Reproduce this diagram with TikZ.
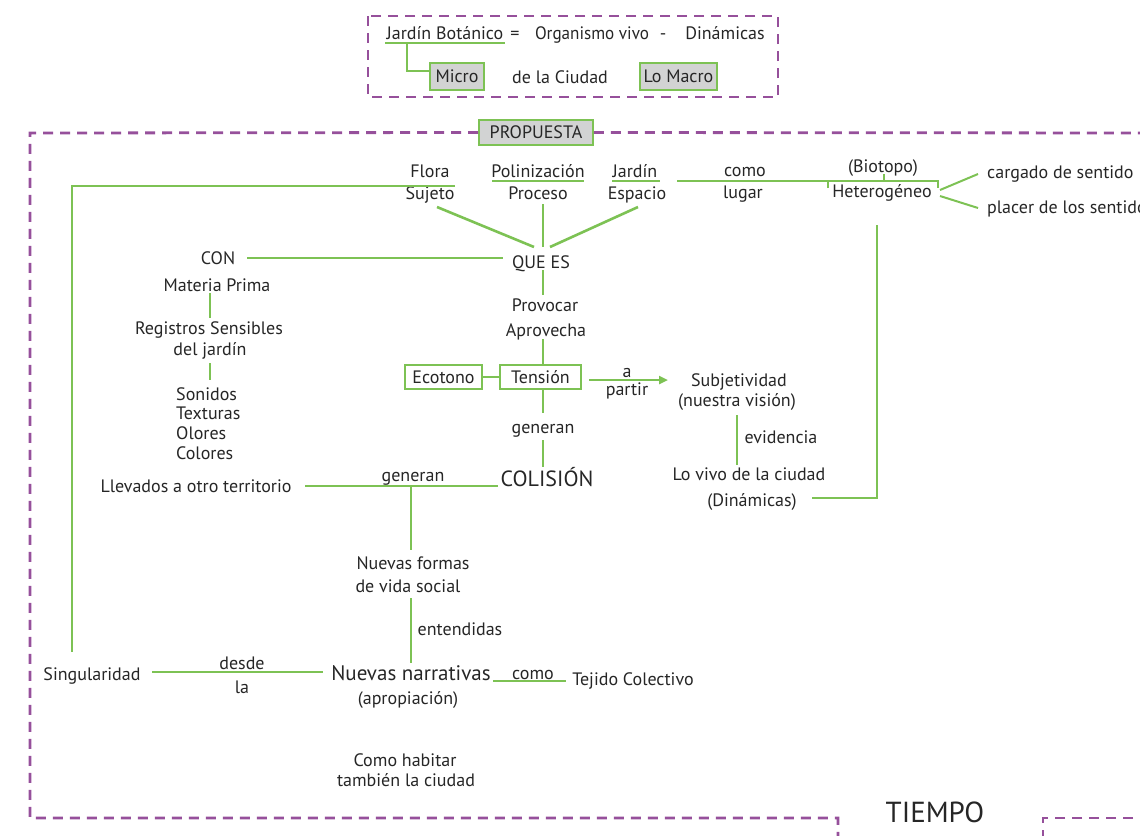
\documentclass[tikz,border=0pt]{standalone}
\usepackage{fontspec}
\setmainfont{PT Sans}
\usetikzlibrary{arrows.meta}
\definecolor{lgreen}{RGB}{125,194,84}
\definecolor{dpurple}{RGB}{150,80,155}
\definecolor{boxgray}{RGB}{210,211,211}
\definecolor{ink}{RGB}{38,38,38}
\begin{document}
\begin{tikzpicture}[x=1pt,y=-1pt,
  lbl/.style={inner sep=0pt, text=ink, font=\fontsize{18}{20}\selectfont, text height=12.6pt, text depth=0pt},
  lblw/.style={lbl, anchor=west},
  big/.style={inner sep=0pt, text=ink, font=\fontsize{21}{24}\selectfont, text height=14.7pt, text depth=0pt},
  colis/.style={inner sep=0pt, text=ink, font=\fontsize{22}{26}\selectfont, text height=15.4pt, text depth=0pt},
  tiempo/.style={inner sep=0pt, text=ink, font=\fontsize{29}{32}\selectfont, text height=20pt, text depth=0pt},
  gline/.style={draw=lgreen, line width=2.6pt},
  frame/.style={draw=dpurple, line width=2.8pt, dash pattern=on 10pt off 7pt},
  graybox/.style={draw=lgreen, line width=1.8pt, fill=boxgray, text=ink, font=\fontsize{18}{20}\selectfont, inner sep=0pt, text height=12.6pt, text depth=0pt},
  whitebox/.style={draw=lgreen, line width=1.8pt, fill=white, text=ink, font=\fontsize{18}{20}\selectfont, inner sep=0pt, text height=12.6pt, text depth=0pt},
  tip/.style={-{Triangle[length=9pt,width=8pt]}}
]
\useasboundingbox (0,0) rectangle (1140,835);
\clip (0,0) rectangle (1140,835);

% ---------- top box ----------
\draw[frame] (368,16) rectangle (778,97);
\node[lbl] (jb) at (445,33) {Jardín Botánico};
\node[lbl] (eq) at (515,33) {=};
\node[lbl] (ov) at (592,33) {\scalebox{0.95}[1]{Organismo vivo}};
\node[lbl] (guion) at (663,33) {-};
\node[lbl] (din1) at (725,33) {Dinámicas};
\node[graybox, minimum width=54pt, minimum height=27pt] (micro) at (457,76.5) {Micro};
\node[lbl] (dlc) at (560,77) {de la Ciudad};
\node[graybox, minimum width=77pt, minimum height=27pt] (macro) at (678.5,76.5) {Lo Macro};
\coordinate (jbL) at (385,43);
\coordinate (jbR) at (505,43);
\coordinate (jbS) at (407,43);
\coordinate (mj) at (430,71);
\draw[gline] (jbL) -- (jbR);
\draw[gline] (jbS) |- (mj);

% ---------- main frame ----------
\node[graybox, minimum width=114pt, minimum height=25pt] (prop) at (536,132.5) {PROPUESTA};
\draw[frame] (prop.west) -- (30,133) -- (30,818) -- (838,818) -- (838,845);
\draw[frame] (prop.east) -- (1150,133);
\draw[frame] (1150,818) -- (1043,818) -- (1043,845);
\node[tiempo] (tiempo) at (935,812) {TIEMPO};

% ---------- first row ----------
\node[lbl] (flora) at (430,171) {Flora};
\node[lbl] (sujeto) at (430,193) {Sujeto};
\node[lbl] (polin) at (538,171) {Polinización};
\node[lbl] (proceso) at (538,193) {Proceso};
\node[lbl] (jardin) at (635,171) {Jardín};
\node[lbl] (espacio) at (637,193) {Espacio};
\node[lbl] (como1) at (745,170) {como};
\node[lbl] (lugar) at (743,192) {lugar};
\node[lbl] (biotopo) at (883,166) {(Biotopo)};
\node[lbl] (hetero) at (882,191) {Heterogéneo};
\node[lblw] (cargado) at (987,172) {cargado de sentido};
\node[lblw] (placer) at (987,207) {placer de los sentidos};

\coordinate (floraL) at (72,186);
\coordinate (floraR) at (455,186);
\coordinate (singT) at (72,652);
\draw[gline] (floraR) -- (floraL) -- (singT);
\draw[gline] (492,181) -- (584,181);
\draw[gline] (612,181) -- (660,181);
\coordinate (lugarL) at (677,181);
\coordinate (brL) at (828,181);
\coordinate (brR) at (938,181);
\coordinate (brM) at (884,181);
\draw[gline] (lugarL) -- (brL);
\draw[draw=lgreen, line width=2pt] (828,188) -- (brL) -- (brR) -- (938,188);
\draw[draw=lgreen, line width=2pt] (brM) -- (884,174);
\coordinate (hR1) at (940,190);
\coordinate (hR2) at (940,196);
\draw[gline, line width=2pt] (hR1) -- (978,174);
\draw[gline, line width=2pt] (hR2) -- (978,208);
\coordinate (hetB) at (877,225);
\coordinate (dinC) at (877,498);
\coordinate (dinR) at (812,498);
\draw[gline] (hetB) -- (dinC) -- (dinR);

% ---------- QUE ES ----------
\node[lbl] (quees) at (541,262) {QUE ES};
\node[lbl] (con) at (218,258) {CON};
\draw[gline] (437,207) -- (534,247);
\draw[gline] (543,204) -- (543,247);
\draw[gline] (638,207) -- (550,247);
\draw[gline] (247,258) -- (503,258);
\draw[gline] (543,270) -- (543,295);

% ---------- left column ----------
\node[lbl] (materia) at (217,285) {Materia Prima};
\node[lbl] (registros) at (209,328) {Registros Sensibles};
\node[lbl] (deljardin) at (210,349) {del jardín};
\node[lblw] (sonidos) at (176,394) {Sonidos};
\node[lblw] (texturas) at (176,413) {Texturas};
\node[lblw] (olores) at (176,433) {Olores};
\node[lblw] (colores) at (176,453) {Colores};
\draw[gline] (210,293) -- (210,318);
\draw[gline] (210,363) -- (210,380);
\node[lbl] (llevados) at (196,486) {Llevados a otro territorio};

% ---------- centre column ----------
\node[lbl] (provocar) at (545,305) {Provocar};
\node[lbl] (aprovecha) at (546,330) {Aprovecha};
\draw[gline] (543,339) -- (543,365);
\node[whitebox, minimum width=77pt, minimum height=24pt] (ecotono) at (443.5,377) {Ecotono};
\node[whitebox, minimum width=81pt, minimum height=24pt] (tension) at (540.5,377) {Tensión};
\draw[gline, line width=2pt] (ecotono.east) -- (tension.west);
\coordinate (arrS) at (589,380);
\coordinate (arrE) at (668,380);
\draw[gline, tip, lgreen] (arrS) -- (arrE);
\node[lbl] (a) at (627,371) {a};
\node[lbl] (partir) at (627,389) {partir};
\node[lbl] (subj) at (739,380) {Subjetividad};
\node[lbl] (vision) at (737,400) {(nuestra visión)};
\draw[gline] (737,415) -- (737,465);
\node[lbl] (evid) at (781,437) {evidencia};
\node[lbl] (lovivo) at (749,474) {Lo vivo de la ciudad};
\node[lbl] (din2) at (752,500) {(Dinámicas)};

\node[lbl] (generan1) at (543,427) {generan};
\draw[gline] (543,390) -- (543,413);
\draw[gline] (543,440) -- (543,467);
\node[colis] (colision) at (547,479) {COLISIÓN};

\node[lbl] (generan2) at (413,475) {generan};
\coordinate (llevR) at (305,486);
\coordinate (colL) at (498,486);
\coordinate (genJ) at (411,486);
\coordinate (nfT) at (411,550);
\draw[gline] (llevR) -- (colL);
\draw[gline] (genJ) -- (nfT);

\node[lbl] (nformas) at (413,563) {Nuevas formas};
\node[lbl] (vidasoc) at (408,586) {de vida social};
\draw[gline] (411,598) -- (411,663);
\node[lbl] (entend) at (460,629) {entendidas};
\node[big] (nnarr) at (411,673) {Nuevas narrativas};
\node[lbl] (aprop) at (408,698) {(apropiación)};
\node[lbl] (como2) at (533,673) {como};
\draw[gline] (493,681) -- (566,681);
\node[lbl] (tejido) at (633,679) {Tejido Colectivo};

\node[lbl] (singular) at (92,674) {Singularidad};
\draw[gline] (152,672) -- (323,672);
\node[lbl] (desde) at (242,663) {desde};
\node[lbl] (la) at (242,687) {la};

\node[lbl] (habitar) at (405,760) {Como habitar};
\node[lbl] (tambien) at (406,780) {también la ciudad};
\end{tikzpicture}
\end{document}
